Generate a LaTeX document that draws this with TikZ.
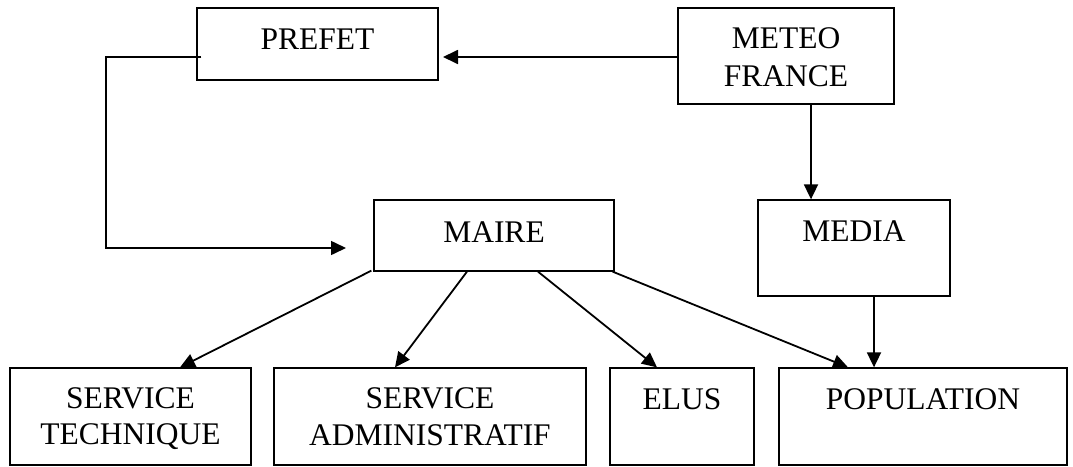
\documentclass[tikz,border=0pt]{standalone}
\usepackage{fontspec}
\setmainfont{Liberation Serif}
\usetikzlibrary{arrows.meta}
\begin{document}
\begin{tikzpicture}[x=1pt,y=-1pt,
  box/.style={draw=black,line width=1.3pt,rectangle,inner sep=0pt},
  lbl/.style={anchor=base,inner sep=0pt,font=\fontsize{31.5}{37}\selectfont},
  conn/.style={line width=1.8pt,-{Triangle[length=15pt,width=14pt]}}]
\useasboundingbox (0,0) rectangle (1073,466);
% boxes
\node[box,minimum width=241pt,minimum height=72pt] (prefet) at (317.5,44) {};
\node[box,minimum width=216pt,minimum height=96pt] (meteo) at (786,56) {};
\node[box,minimum width=240pt,minimum height=71pt] (maire) at (494,235.5) {};
\node[box,minimum width=192pt,minimum height=96pt] (media) at (854,248) {};
\node[box,minimum width=241pt,minimum height=97pt] (st) at (130.5,416.5) {};
\node[box,minimum width=312pt,minimum height=97pt] (sa) at (430,416.5) {};
\node[box,minimum width=144pt,minimum height=97pt] (elus) at (682,416.5) {};
\node[box,minimum width=288pt,minimum height=97pt] (pop) at (923,416.5) {};
% texts
\node[lbl] (tprefet) at (317.5,49) {PREFET};
\node[lbl] (tmeteo1) at (786,48) {METEO};
\node[lbl] (tmeteo2) at (786,86) {FRANCE};
\node[lbl] (tmaire) at (494,242) {MAIRE};
\node[lbl] (tmedia) at (854,241) {MEDIA};
\node[lbl] (tst1) at (130.5,408) {SERVICE};
\node[lbl] (tst2) at (130.5,444) {TECHNIQUE};
\node[lbl] (tsa1) at (430,408) {SERVICE};
\node[lbl] (tsa2) at (430,445) {ADMINISTRATIF};
\node[lbl] (telus) at (682,409) {ELUS};
\node[lbl] (tpop) at (923,409) {POPULATION};
% helper coordinates
\coordinate (ptip) at (443,57);
\coordinate (e1) at (106,57);
\coordinate (e2) at (106,248);
\coordinate (mtip) at (346,248);
\coordinate (mx) at (811,0);
\coordinate (px) at (874,0);
\coordinate (stx) at (180,0);
\coordinate (sax) at (395,0);
\coordinate (elx) at (657,0);
\coordinate (popx) at (848,0);
\coordinate (m2) at (467,0);
\coordinate (m3) at (538,0);
% connectors
\draw[conn] (meteo.west |- ptip) -- (ptip);
\draw[conn,line width=1.6pt] ([xshift=5pt]prefet.west |- e1) -- (e1) -- (e2) -- (mtip);
\draw[conn] (meteo.south -| mx) -- (media.north -| mx);
\draw[conn] (media.south -| px) -- (pop.north -| px);
\draw[conn] ([shift={(-2pt,1pt)}]maire.south west) -- (st.north -| stx);
\draw[conn] (maire.south -| m2) -- (sa.north -| sax);
\draw[conn] (maire.south -| m3) -- (elus.north -| elx);
\draw[conn] ([shift={(-2pt,0pt)}]maire.south east) -- (pop.north -| popx);
\end{tikzpicture}
\end{document}
